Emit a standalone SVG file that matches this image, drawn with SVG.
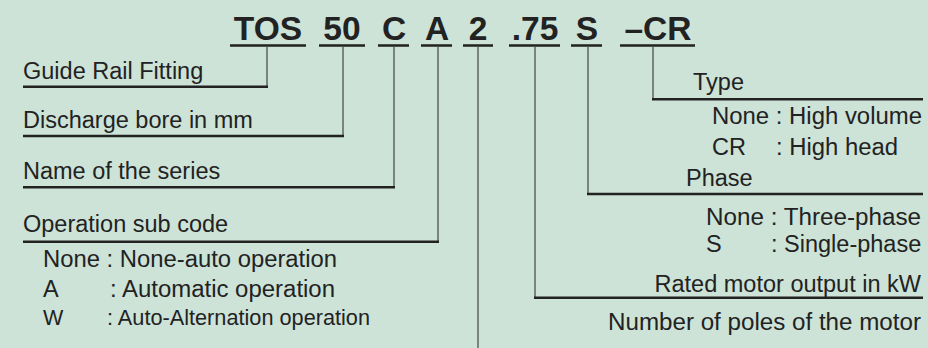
<svg xmlns="http://www.w3.org/2000/svg" width="928" height="348" viewBox="0 0 928 348">
<style>
.t{font-family:"Liberation Sans",Arial,sans-serif;font-size:23.5px;fill:#222}
.s{font-family:"Liberation Sans",Arial,sans-serif;font-size:21.5px;fill:#222}
.h{font-family:"Liberation Sans",Arial,sans-serif;font-size:33.5px;font-weight:bold;fill:#222;text-anchor:middle}
.u{stroke:#222;stroke-width:2.5;fill:none}
.c{stroke:#444;stroke-width:1.2;fill:none}
</style>
<rect width="928" height="348" fill="#cde3d7"/>
<g id="code">
<text class="h" x="268" y="40">TOS</text>
<text class="h" x="342" y="40">50</text>
<text class="h" x="394" y="40">C</text>
<text class="h" x="437" y="40">A</text>
<text class="h" x="478" y="40">2</text>
<text class="h" x="535" y="40">.75</text>
<text class="h" x="587" y="40">S</text>
<text class="h" x="658" y="40">–CR</text>
<path class="u" d="M230 45.5H306M319 45.5H365M378 45.5H409M421 45.5H452M463 45.5H493M509 45.5H560M571 45.5H602M620 45.5H695"/>
</g>
<g id="connectors">
<path class="c" d="M267 47V87M343 47V136M394 47V187M438 47V242M478 47V348M535 47V298M588 47V194M653 47V99"/>
</g>
<g id="guide">
<text class="t" x="23" y="79">Guide Rail Fitting</text>
<path class="u" d="M23 86.7H268"/>
</g>
<g id="bore">
<text class="t" x="23" y="128">Discharge bore in mm</text>
<path class="u" d="M23 136H344"/>
</g>
<g id="series">
<text class="t" x="23" y="179">Name of the series</text>
<path class="u" d="M23 187.3H395"/>
</g>
<g id="operation">
<text class="t" x="23" y="232">Operation sub code</text>
<path class="u" d="M23 241.7H439"/>
<text class="t" x="43" y="267" textLength="294" lengthAdjust="spacingAndGlyphs">None : None-auto operation</text>
<text class="t" x="43" y="297">A</text>
<text class="t" x="110" y="297" textLength="225" lengthAdjust="spacingAndGlyphs">: Automatic operation</text>
<text class="s" x="43" y="325">W</text>
<text class="s" x="107" y="325" textLength="263" lengthAdjust="spacingAndGlyphs">: Auto-Alternation operation</text>
</g>
<g id="type">
<text class="t" x="693" y="90">Type</text>
<path class="u" d="M652 99.3H923"/>
<text class="t" x="712" y="124" textLength="210" lengthAdjust="spacingAndGlyphs">None : High volume</text>
<text class="t" x="712" y="155">CR</text>
<text class="t" x="776" y="155" textLength="122" lengthAdjust="spacingAndGlyphs">: High head</text>
</g>
<g id="phase">
<text class="t" x="686" y="186">Phase</text>
<path class="u" d="M587 194H923"/>
<text class="t" x="706" y="225" textLength="215" lengthAdjust="spacingAndGlyphs">None : Three-phase</text>
<text class="t" x="706" y="252">S</text>
<text class="t" x="771" y="252">: Single-phase</text>
</g>
<g id="rated">
<text class="t" x="921" y="292" text-anchor="end">Rated motor output in kW</text>
<path class="u" d="M534 297.7H923"/>
</g>
<g id="poles">
<text class="t" x="608" y="330" textLength="313" lengthAdjust="spacingAndGlyphs">Number of poles of the motor</text>
</g>
</svg>
